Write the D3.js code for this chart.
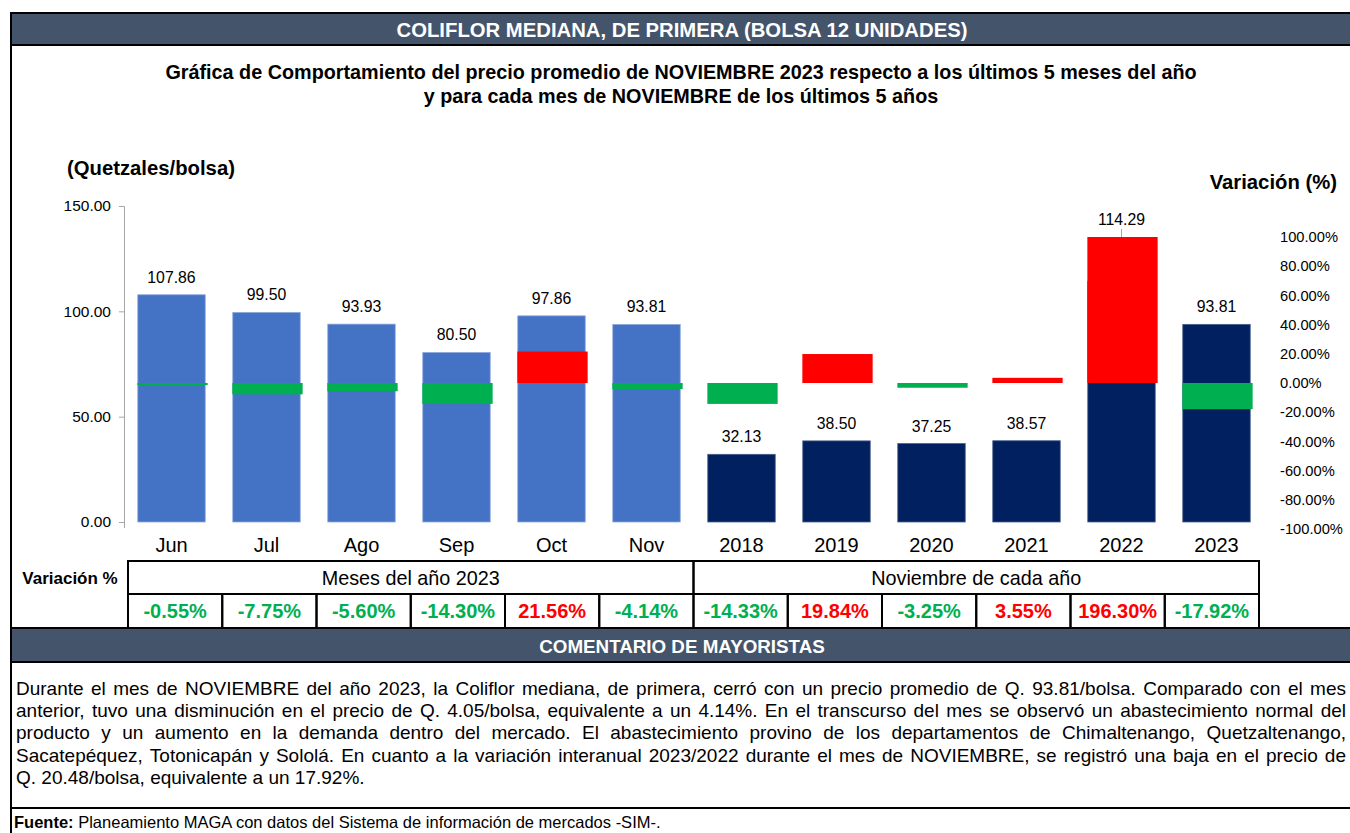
<!DOCTYPE html>
<html>
<head>
<meta charset="utf-8">
<script src="https://cdn.jsdelivr.net/npm/d3@7"></script>
<style>
  html, body { margin: 0; padding: 0; background: #ffffff; }
  svg { display: block; font-family: "Liberation Sans", Arial, sans-serif; }
</style>
</head>
<body>
<svg id="chart" width="1350" height="833"></svg>
<script>
// ---------------- DATA ----------------
const categories = ["Jun", "Jul", "Ago", "Sep", "Oct", "Nov", "2018", "2019", "2020", "2021", "2022", "2023"];
const prices = [107.86, 99.50, 93.93, 80.50, 97.86, 93.81, 32.13, 38.50, 37.25, 38.57, 114.29, 93.81];
const variations = [-0.55, -7.75, -5.60, -14.30, 21.56, -4.14, -14.33, 19.84, -3.25, 3.55, 196.30, -17.92];
const monthCategories = ["Jun", "Jul", "Ago", "Sep", "Oct", "Nov"];
const groupLabels = ["Meses del año 2023", "Noviembre de cada año"];
const leftTicks = [0, 50, 100, 150];
const rightTicks = [-100, -80, -60, -40, -20, 0, 20, 40, 60, 80, 100];
const titleText = "COLIFLOR MEDIANA, DE PRIMERA (BOLSA 12 UNIDADES)";
const subtitleLines = [
  "Gráfica de Comportamiento del precio promedio de NOVIEMBRE 2023 respecto a los últimos 5 meses del año",
  "y para cada mes de NOVIEMBRE de los últimos 5 años"
];
const leftAxisTitle = "(Quetzales/bolsa)";
const rightAxisTitle = "Variación (%)";
const tableRowLabel = "Variación %";
const commentTitle = "COMENTARIO DE MAYORISTAS";
const commentLines = [
  "Durante el mes de NOVIEMBRE del año 2023, la Coliflor mediana, de primera, cerró con un precio promedio de Q. 93.81/bolsa. Comparado con el mes",
  "anterior, tuvo una disminución en el precio de Q. 4.05/bolsa, equivalente a un 4.14%. En el transcurso del mes se observó un abastecimiento normal del",
  "producto y un aumento en la demanda dentro del mercado. El abastecimiento provino de los departamentos de Chimaltenango, Quetzaltenango,",
  "Sacatepéquez, Totonicapán y Sololá.  En cuanto a la variación interanual 2023/2022 durante el mes de NOVIEMBRE, se registró una baja en el precio de",
  "Q. 20.48/bolsa, equivalente a un 17.92%."
];
const sourceBold = "Fuente:";
const sourceText = " Planeamiento MAGA con datos del Sistema de información de mercados -SIM-.";

// ---------------- STYLE ----------------
const C = {
  header: "#44546A",
  blue: "#4472C4",
  navy: "#002060",
  green: "#00B050",
  red: "#FF0000",
  axis: "#A6A6A6"
};
const fmt2 = d => d3.format(".2f")(d).replace("\u2212", "-");

const svg = d3.select("#chart");

// ---------------- FRAME ----------------
const frameLeft = 11;
svg.append("rect").attr("x", frameLeft).attr("y", 13).attr("width", 1360).attr("height", 32)
  .attr("fill", C.header).attr("stroke", "#000").attr("stroke-width", 2);
svg.append("text").attr("x", 682).attr("y", 37).attr("text-anchor", "middle")
  .attr("font-size", 20.3).attr("font-weight", "bold").attr("fill", "#fff").text(titleText);

svg.append("line").attr("x1", frameLeft).attr("x2", frameLeft).attr("y1", 13).attr("y2", 833)
  .attr("stroke", "#000").attr("stroke-width", 2);

svg.selectAll("text.subtitle").data(subtitleLines).join("text")
  .attr("class", "subtitle")
  .attr("x", 681).attr("y", (d, i) => 79 + i * 24)
  .attr("text-anchor", "middle").attr("font-size", 19.8).attr("font-weight", "bold")
  .text(d => d);

svg.append("text").attr("x", 67).attr("y", 175).attr("font-size", 20.3).attr("font-weight", "bold")
  .text(leftAxisTitle);
svg.append("text").attr("x", 1337).attr("y", 189).attr("text-anchor", "end")
  .attr("font-size", 20.3).attr("font-weight", "bold").text(rightAxisTitle);

// ---------------- SCALES ----------------
const x = d3.scaleBand().domain(categories).range([124, 1264]).paddingInner(0.29).paddingOuter(0.145);
const xVar = d3.scaleBand().domain(categories).range([125, 1265]).paddingInner(0.26).paddingOuter(0.13);
const y = d3.scaleLinear().domain([0, 150]).range([522, 206]);
const yR = d3.scaleLinear().domain([-100, 100]).range([529, 237]).clamp(true);

// ---------------- LEFT AXIS ----------------
const leftAxis = d3.axisLeft(y).tickValues(leftTicks).tickFormat(fmt2).tickSize(5).tickPadding(8);
const gL = svg.append("g").attr("transform", "translate(124,0)").call(leftAxis);
gL.select(".domain").attr("stroke", C.axis).attr("d", "M-5,206.5H0.5V528");
gL.selectAll(".tick line").attr("stroke", C.axis);
gL.selectAll(".tick text").attr("font-size", 15.5).attr("fill", "#000")
  .attr("font-family", "Liberation Sans, Arial, sans-serif");

// ---------------- RIGHT AXIS (labels only) ----------------
const rightAxis = d3.axisRight(yR).tickValues(rightTicks).tickFormat(d => fmt2(d) + "%").tickSize(0).tickPadding(0);
const gR = svg.append("g").attr("transform", "translate(1280,0)").call(rightAxis);
gR.select(".domain").remove();
gR.selectAll(".tick text").attr("font-size", 14.7).attr("fill", "#000")
  .attr("font-family", "Liberation Sans, Arial, sans-serif");

// ---------------- PRICE BARS ----------------
const rows = categories.map((c, i) => ({ cat: c, price: prices[i], variation: variations[i], month: monthCategories.includes(c) }));

svg.append("g").selectAll("rect").data(rows).join("rect")
  .attr("x", d => x(d.cat)).attr("width", x.bandwidth())
  .attr("y", d => y(d.price)).attr("height", d => y(0) - y(d.price))
  .attr("fill", d => d.month ? C.blue : C.navy)
  .attr("stroke", d => d.month ? "#8FAADC" : "#4A5F8A").attr("stroke-width", 0.8);

// ---------------- VARIATION BARS ----------------
svg.append("g").selectAll("rect").data(rows).join("rect")
  .attr("x", d => xVar(d.cat)).attr("width", xVar.bandwidth())
  .attr("y", d => Math.min(yR(0), yR(d.variation)))
  .attr("height", d => Math.max(2, Math.abs(yR(d.variation) - yR(0))))
  .attr("fill", d => d.variation < 0 ? C.green : C.red);

// ---------------- VALUE LABELS ----------------
// a label hidden by a positive variation bar is lifted above that bar, with a leader line
const hidden = d => d.variation > 0 && y(d.price) - 12 > yR(d.variation) && y(d.price) - 12 < yR(0);
const labelY = d => (hidden(d) ? yR(d.variation) - 12 : y(d.price) - 12);
svg.append("g").selectAll("text").data(rows).join("text")
  .attr("x", d => x(d.cat) + x.bandwidth() / 2)
  .attr("y", labelY)
  .attr("text-anchor", "middle").attr("font-size", 15.8)
  .text(d => fmt2(d.price));
svg.append("g").selectAll("line").data(rows.filter(hidden)).join("line")
  .attr("x1", d => x(d.cat) + x.bandwidth() / 2).attr("x2", d => x(d.cat) + x.bandwidth() / 2)
  .attr("y1", d => labelY(d) + 4).attr("y2", d => yR(d.variation))
  .attr("stroke", C.axis).attr("stroke-width", 1);

// ---------------- X LABELS ----------------
svg.append("g").selectAll("text").data(categories).join("text")
  .attr("x", d => x(d) + x.bandwidth() / 2).attr("y", 552)
  .attr("text-anchor", "middle").attr("font-size", 20).text(d => d);

// ---------------- TABLE ----------------
const tx = d3.scaleBand().domain(categories).range([128, 1259]);
const tableTop = 561, tableMid = 594, tableBot = 628;
svg.append("text").attr("x", 70).attr("y", 584).attr("text-anchor", "middle")
  .attr("font-size", 17).attr("font-weight", "bold").text(tableRowLabel);

const groups = [
  { label: groupLabels[0], x0: tx(categories[0]), x1: tx(categories[5]) + tx.bandwidth() },
  { label: groupLabels[1], x0: tx(categories[6]), x1: tx(categories[11]) + tx.bandwidth() }
];
const tg = svg.append("g");
tg.selectAll("rect.grp").data(groups).join("rect").attr("class", "grp")
  .attr("x", d => d.x0).attr("y", tableTop).attr("width", d => d.x1 - d.x0).attr("height", tableMid - tableTop)
  .attr("fill", "none").attr("stroke", "#000").attr("stroke-width", 2);
tg.selectAll("text.grp").data(groups).join("text").attr("class", "grp")
  .attr("x", d => (d.x0 + d.x1) / 2).attr("y", 585).attr("text-anchor", "middle")
  .attr("font-size", 19.8).text(d => d.label);
tg.selectAll("rect.cell").data(rows).join("rect").attr("class", "cell")
  .attr("x", d => tx(d.cat)).attr("y", tableMid).attr("width", tx.bandwidth()).attr("height", tableBot - tableMid)
  .attr("fill", "none").attr("stroke", "#000").attr("stroke-width", 2);
tg.selectAll("text.cell").data(rows).join("text").attr("class", "cell")
  .attr("x", d => tx(d.cat) + tx.bandwidth() / 2).attr("y", 618).attr("text-anchor", "middle")
  .attr("font-size", 20).attr("font-weight", "bold")
  .attr("fill", d => d.variation < 0 ? C.green : C.red)
  .text(d => fmt2(d.variation) + "%");

// ---------------- COMMENT ----------------
svg.append("rect").attr("x", frameLeft).attr("y", 628).attr("width", 1360).attr("height", 34)
  .attr("fill", C.header).attr("stroke", "#000").attr("stroke-width", 2);
svg.append("text").attr("x", 682).attr("y", 652.5).attr("text-anchor", "middle")
  .attr("font-size", 18.8).attr("font-weight", "bold").attr("fill", "#fff").text(commentTitle);

const cLeft = 16, cRight = 1346, cFont = 19;
const cg = svg.append("g").attr("font-size", cFont);
commentLines.forEach((line, i) => {
  const yy = 695 + i * 22.2;
  const words = line.split(" ").filter(w => w.length);
  if (i === commentLines.length - 1) {
    cg.append("text").attr("x", cLeft).attr("y", yy).text(line);
    return;
  }
  const nodes = words.map(w => cg.append("text").attr("y", yy).text(w));
  const widths = nodes.map(n => n.node().getComputedTextLength());
  const total = d3.sum(widths);
  const gap = (cRight - cLeft - total) / (words.length - 1);
  let cx = cLeft;
  nodes.forEach((n, k) => { n.attr("x", cx); cx += widths[k] + gap; });
});

svg.append("line").attr("x1", frameLeft).attr("x2", 1350).attr("y1", 808).attr("y2", 808)
  .attr("stroke", "#000").attr("stroke-width", 2);
const src = svg.append("text").attr("x", 14).attr("y", 827.5).attr("font-size", 16.5);
src.append("tspan").attr("font-weight", "bold").text(sourceBold);
src.append("tspan").text(sourceText);
</script>
</body>
</html>
